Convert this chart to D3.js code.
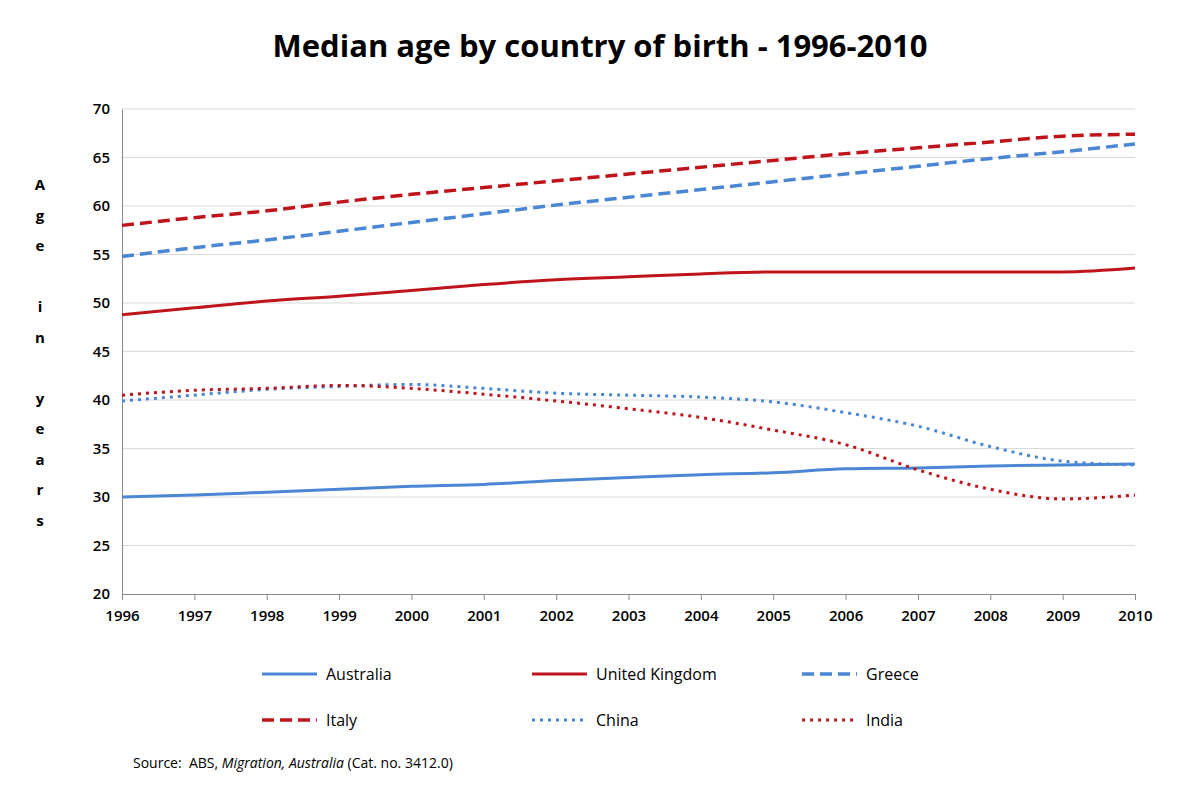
<!DOCTYPE html>
<html lang="en">
<head>
<meta charset="utf-8">
<title>Median age</title>
<script src="https://d3js.org/d3.v7.min.js"></script>
<style>
  body { margin:0; background:#fff; }
  text { font-family: "Open Sans", "Liberation Sans", sans-serif; }
</style>
</head>
<body>
<svg id="chart" width="1200" height="786"></svg>
<script>
var years = [1996,1997,1998,1999,2000,2001,2002,2003,2004,2005,2006,2007,2008,2009,2010];
var yTicks = [20,25,30,35,40,45,50,55,60,65,70];
var australia = [30.0,30.2,30.5,30.8,31.1,31.3,31.7,32.0,32.3,32.5,32.9,33.0,33.2,33.3,33.4];
var uk        = [48.8,49.5,50.2,50.7,51.3,51.9,52.4,52.7,53.0,53.2,53.2,53.2,53.2,53.2,53.6];
var greece    = [54.8,55.7,56.5,57.4,58.3,59.2,60.1,60.9,61.7,62.5,63.3,64.1,64.9,65.6,66.4];
var italy     = [58.0,58.8,59.5,60.4,61.2,61.9,62.6,63.3,64.0,64.7,65.4,66.0,66.6,67.2,67.4];
var china     = [39.9,40.5,41.1,41.4,41.6,41.2,40.7,40.5,40.3,39.8,38.7,37.3,35.2,33.7,33.3];
var india     = [40.5,41.0,41.2,41.5,41.2,40.6,39.9,39.1,38.2,36.9,35.4,32.8,30.8,29.8,30.2];

var blue = "#4a86d4", red = "#c0141c";
var series = [
  {name:"Australia", values:australia, color:blue, dash:null, w:3},
  {name:"United Kingdom", values:uk, color:red, dash:null, w:3},
  {name:"Greece", values:greece, color:blue, dash:"12,6", w:3.5},
  {name:"Italy", values:italy, color:red, dash:"12,6", w:3.5},
  {name:"China", values:china, color:blue, dash:"3,5", w:3},
  {name:"India", values:india, color:red, dash:"3,5", w:3}
];

var svg = d3.select("#chart");
var x = d3.scaleLinear().domain([1996,2010]).range([122,1135]);
var y = d3.scaleLinear().domain([20,70]).range([594,109]);

svg.append("text").attr("x",600).attr("y",57).attr("text-anchor","middle")
  .style("font-size","31px").style("font-weight","bold").text("Median age by country of birth - 1996-2010");

// grid
svg.append("g").selectAll("line").data(yTicks.slice(1)).join("line")
  .attr("x1",122).attr("x2",1135).attr("y1",d=>y(d)).attr("y2",d=>y(d))
  .attr("stroke","#d9d9d9").attr("stroke-width",1.2);

var yAxis = svg.append("g").attr("transform","translate(122,0)")
  .call(d3.axisLeft(y).tickValues(yTicks).tickSize(0).tickPadding(12));
yAxis.select(".domain").attr("stroke","#888");
yAxis.selectAll("text").style("font-size","15px").style("font-weight","600")
  .style("font-family","Open Sans, sans-serif").attr("fill","#000");

var xAxis = svg.append("g").attr("transform","translate(0,594)")
  .call(d3.axisBottom(x).tickValues(years).tickFormat(d3.format("d")).tickSize(6).tickPadding(10));
xAxis.selectAll("path,line").attr("stroke","#888");
xAxis.selectAll("text").style("font-size","15px").style("font-weight","600")
  .style("font-family","Open Sans, sans-serif").attr("fill","#000");

// vertical y label
var letters = ["A","g","e","","i","n","","y","e","a","r","s"];
svg.append("g").selectAll("text").data(letters).join("text")
  .attr("x",40).attr("y",(d,i)=>190+i*30.5).attr("text-anchor","middle")
  .style("font-size","15px").style("font-weight","bold").text(d=>d);

var line = d3.line().x((d,i)=>x(years[i])).y(d=>y(d)).curve(d3.curveMonotoneX);
svg.append("g").selectAll("path").data(series).join("path")
  .attr("d",d=>line(d.values)).attr("fill","none")
  .attr("stroke",d=>d.color).attr("stroke-width",d=>d.w)
  .attr("stroke-dasharray",d=>d.dash);

// legend
var lg = svg.append("g").selectAll("g").data(series).join("g")
  .attr("transform",(d,i)=>"translate("+(262+(i%3)*270)+","+(674+Math.floor(i/3)*46)+")");
lg.append("line").attr("x1",0).attr("x2",55)
  .attr("stroke",d=>d.color).attr("stroke-width",d=>d.w).attr("stroke-dasharray",d=>d.dash);
lg.append("text").attr("x",64).attr("y",6).style("font-size","16px").text(d=>d.name);

var src = svg.append("text").attr("x",133).attr("y",768).style("font-size","14px")
  .attr("xml:space","preserve").style("white-space","pre");
src.append("tspan").text("Source:  ABS, ");
src.append("tspan").style("font-style","italic").text("Migration, Australia");
src.append("tspan").text(" (Cat. no. 3412.0)");
</script>
</body>
</html>
